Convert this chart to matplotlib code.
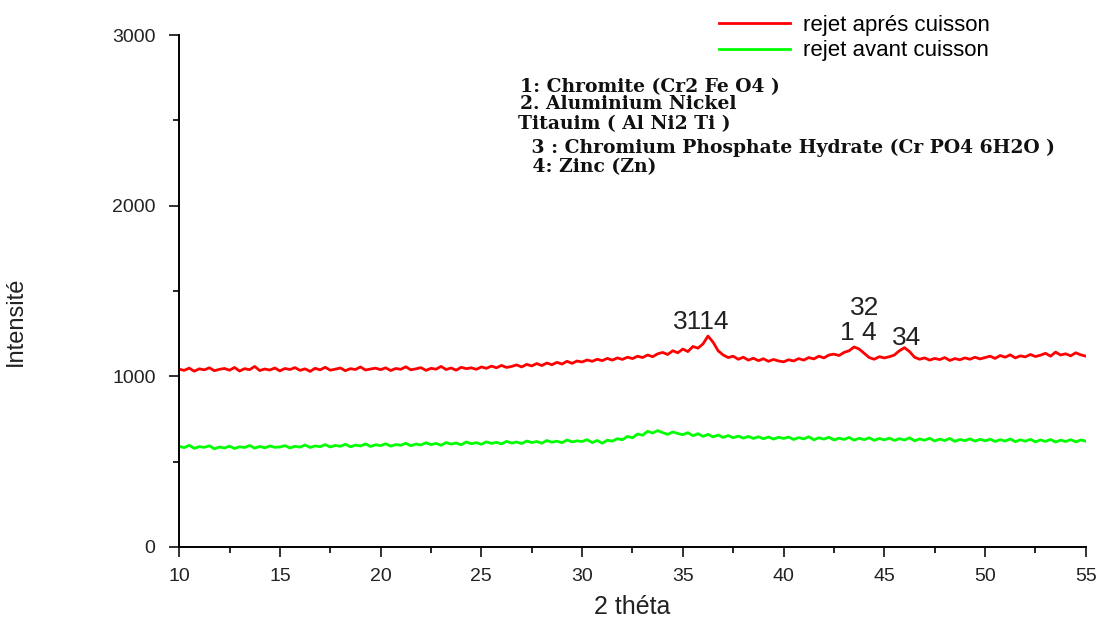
import numpy as np
import matplotlib
matplotlib.use("Agg")
import matplotlib.pyplot as plt
from matplotlib.ticker import MultipleLocator

# 2 théta grid (step 0.25) from 10 to 55
two_theta = np.round(np.arange(10, 55.001, 0.25), 2)

# rejet aprés cuisson
rejet_apres = [
    1042, 1035, 1048, 1030, 1044, 1038, 1050, 1033, 1041, 1046,
    1036, 1052, 1031, 1045, 1039, 1058, 1034, 1043, 1037, 1049,
    1032, 1046, 1040, 1051, 1035, 1044, 1029, 1047, 1038, 1053,
    1036, 1042, 1049, 1033, 1045, 1040, 1055, 1037, 1043, 1048,
    1039, 1050, 1034, 1046, 1041, 1056, 1038, 1044, 1051, 1035,
    1047, 1042, 1058, 1040, 1049, 1036, 1053, 1045, 1050, 1041,
    1055, 1047, 1060, 1050, 1064, 1052, 1058, 1067, 1055, 1070,
    1061, 1075, 1063, 1078, 1068, 1082, 1072, 1088, 1076, 1090,
    1084, 1096, 1088, 1100, 1092, 1105, 1095, 1108, 1099, 1112,
    1104, 1118, 1110, 1125, 1115, 1132, 1140, 1128, 1150, 1138,
    1160, 1145, 1175, 1165, 1190, 1236, 1200, 1150, 1125, 1110,
    1118, 1100, 1112, 1095, 1106, 1092, 1103, 1088, 1099, 1090,
    1085, 1097, 1090, 1104, 1095, 1110, 1102, 1118, 1108, 1125,
    1130, 1122, 1140, 1150, 1172, 1160, 1135, 1110, 1100, 1115,
    1108, 1115, 1125, 1150, 1168, 1145, 1112, 1100, 1108, 1095,
    1105, 1098, 1110, 1093, 1104, 1097, 1108, 1100, 1112, 1102,
    1110, 1118, 1105, 1122, 1112, 1126, 1108, 1120, 1114, 1128,
    1116, 1124, 1135, 1118, 1142, 1125, 1132, 1120, 1138, 1126,
    1118,
]

# rejet avant cuisson
rejet_avant = [
    590, 582, 596, 578, 588, 584, 593, 575, 586, 580,
    591, 577, 587, 583, 595, 579, 589, 581, 592, 584,
    586, 594, 580, 590, 585, 598, 583, 592, 588, 600,
    586, 595, 590, 602, 587, 597, 592, 604, 589, 599,
    594, 605, 591, 600, 596, 608, 593, 603, 598, 611,
    600, 607, 596, 612, 603, 609, 599, 615, 605, 611,
    602, 616, 607, 613, 604, 619, 609, 615, 606, 621,
    612, 618, 608, 624, 614, 620, 611, 627, 616, 622,
    618, 629, 612, 624, 608, 626, 620, 635, 628, 648,
    640, 662, 655, 678, 668, 682, 670, 660, 674, 665,
    658, 670, 652, 664, 648, 660, 645, 656, 642, 653,
    640, 650, 638, 648, 636, 646, 634, 645, 632, 643,
    636, 644, 630, 641, 633, 646, 628, 640, 632, 643,
    627, 638, 630, 642, 626, 637, 629, 640, 625, 636,
    628, 638, 624, 635, 627, 640, 622, 633, 626, 637,
    621, 632, 624, 636, 619, 630, 623, 634, 620, 631,
    622, 632, 618, 629, 621, 633, 617, 628, 620, 631,
    616, 627, 619, 630, 615, 626, 618, 629, 616, 627,
    620,
]

# peak labels: (text, 2θ, intensity)
peak_labels = [("3114", 35.9, 1318), ("32", 44.0, 1400), ("1 4", 43.7, 1254), ("34", 46.1, 1224)]

phases = [
    "1: Chromite (Cr2 Fe O4 )",
    "2. Aluminium Nickel",
    "Titauim ( Al Ni2 Ti )",
    " 3 : Chromium Phosphate Hydrate (Cr PO4 6H2O )",
    " 4: Zinc (Zn)",
]

plt.rcParams['font.family'] = ['Liberation Sans', 'DejaVu Sans']

fig = plt.figure(figsize=(10.99, 6.24), dpi=100)
ax = fig.add_axes([0.163, 0.1234, 0.825, 0.8205])

ax.plot(two_theta, rejet_apres, color="#ff0000", lw=2.0, label="rejet aprés cuisson")
ax.plot(two_theta, rejet_avant, color="#00ff00", lw=2.0, label="rejet avant cuisson")

ax.set_xlim(10, 55)
ax.set_ylim(0, 3000)
ax.xaxis.set_major_locator(MultipleLocator(5))
ax.xaxis.set_minor_locator(MultipleLocator(2.5))
ax.yaxis.set_major_locator(MultipleLocator(1000))
ax.yaxis.set_minor_locator(MultipleLocator(500))
ax.spines['top'].set_visible(False)
ax.spines['right'].set_visible(False)
for s in ['left', 'bottom']:
    ax.spines[s].set_linewidth(1.4)
ax.tick_params(which='major', direction='out', length=7, width=1.3, labelsize=14, colors='#222222')
ax.tick_params(axis='x', which='major', pad=8)
ax.tick_params(axis='y', which='major', pad=10)
ax.tick_params(which='minor', direction='out', length=4, width=1.2)
ax.set_xlabel("2 théta", fontsize=18, color='#222222', va='center')
ax.xaxis.set_label_coords(0.5, -0.117)
ax.set_ylabel("Intensité", fontsize=17, color='#222222')
ax.yaxis.set_label_coords(-0.168, 0.44)

for txt, x, y in peak_labels:
    ax.text(x, y, txt, fontsize=19, ha='center', va='center', color='#222222')

ys = [0.861, 0.833, 0.801, 0.763, 0.732]
xs = [0.473, 0.473, 0.471, 0.478, 0.479]
for t, x, y in zip(phases, xs, ys):
    fig.text(x, y, t, fontsize=13.5, fontweight='bold', family='DejaVu Serif', va='center', color='#111111')

fig.legend(loc='upper left', bbox_to_anchor=(0.636, 1.008), frameon=False, fontsize=16,
           handlelength=3.2, handletextpad=0.6, labelspacing=0.2)

fig.savefig("out.png", dpi=100)
